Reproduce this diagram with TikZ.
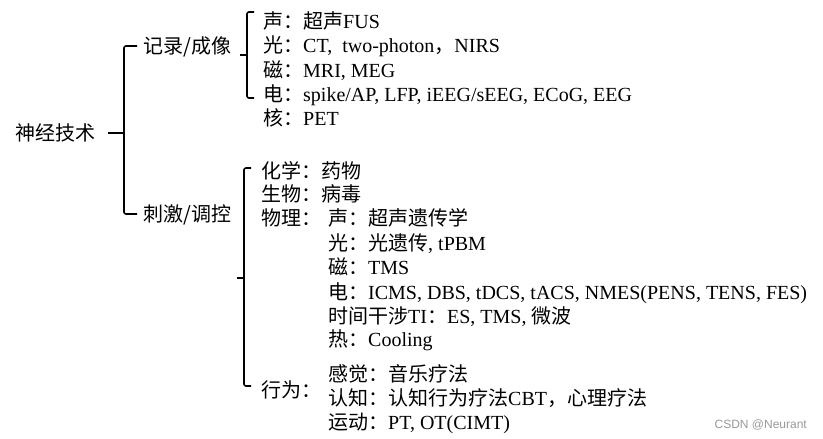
\documentclass[tikz,border=0pt]{standalone}
\usepackage{fontspec}
\setmainfont{Liberation Serif}
\newfontfamily\zhfont{Noto Sans CJK SC}
\newfontfamily\wmfont{Liberation Sans}
\newcommand{\zh}[1]{{\zhfont #1}}
\begin{document}
\begin{tikzpicture}[x=1pt,y=-1pt,
  lbl/.style={anchor=base west,inner sep=0pt,font=\fontsize{20}{22}\selectfont},
  brk/.style={line width=1.6pt,rounded corners=2pt},
  tick/.style={line width=1.6pt}]
\useasboundingbox (0,0) rectangle (823,439);
% texts
\node[lbl] (root) at (15,140) {\zh{神经技术}};
\node[lbl] (rec) at (143,53) {\zh{记录/成像}};
\node[lbl] (stim) at (143,221) {\zh{刺激/调控}};
% recording
\node[lbl] (r1) at (263,28) {\zh{声：超声}FUS};
\node[lbl] (r2) at (263,52.5) {\zh{光：}CT,\ \ two-photon\zh{，}NIRS};
\node[lbl] (r3) at (263,77) {\zh{磁：}MRI, MEG};
\node[lbl] (r4) at (263,101) {\zh{电：}spike/AP, LFP, iEEG/sEEG, ECoG, EEG};
\node[lbl] (r5) at (263,125) {\zh{核：}PET};
% stimulation
\node[lbl] (s1) at (261,178) {\zh{化学：药物}};
\node[lbl] (s2) at (261,201.5) {\zh{生物：病毒}};
\node[lbl] (s3) at (261,225) {\zh{物理：}};
\node[lbl] (s4) at (261,397) {\zh{行为：}};
\node[lbl] (p1) at (328,225) {\zh{声：超声遗传学}};
\node[lbl] (p2) at (328,250) {\zh{光：光遗传}, tPBM};
\node[lbl] (p3) at (328,274) {\zh{磁：}TMS};
\node[lbl] (p4) at (328,299) {\zh{电：}ICMS, DBS, tDCS, tACS, NMES(PENS, TENS, FES)};
\node[lbl] (p5) at (328,323) {\zh{时间干涉}TI\zh{：}ES, TMS, \zh{微波}};
\node[lbl] (p6) at (328,346.5) {\zh{热：}Cooling};
\node[lbl] (b1) at (328,381) {\zh{感觉：音乐疗法}};
\node[lbl] (b2) at (328,405) {\zh{认知：认知行为疗法}CBT\zh{，心理疗法}};
\node[lbl] (b3) at (328,429.5) {\zh{运动：}PT, OT(CIMT)};
\node[anchor=base east,inner sep=0pt,text=black!40,font=\wmfont\fontsize{12}{14}\selectfont] (wm) at (807,428.5) {CSDN @Neurant};
% brackets
\draw[brk] (137,46) -- (124,46) -- (124,214) -- (137,214);
\draw[tick] (108,133) -- (124,133);
\draw[brk] (254,12) -- (247,12) -- (247,98) -- (254,98);
\draw[tick] (240,55) -- (247,55);
\draw[brk] (251,168) -- (244,168) -- (244,386) -- (251,386);
\draw[tick] (237,278) -- (244,278);
\end{tikzpicture}
\end{document}
